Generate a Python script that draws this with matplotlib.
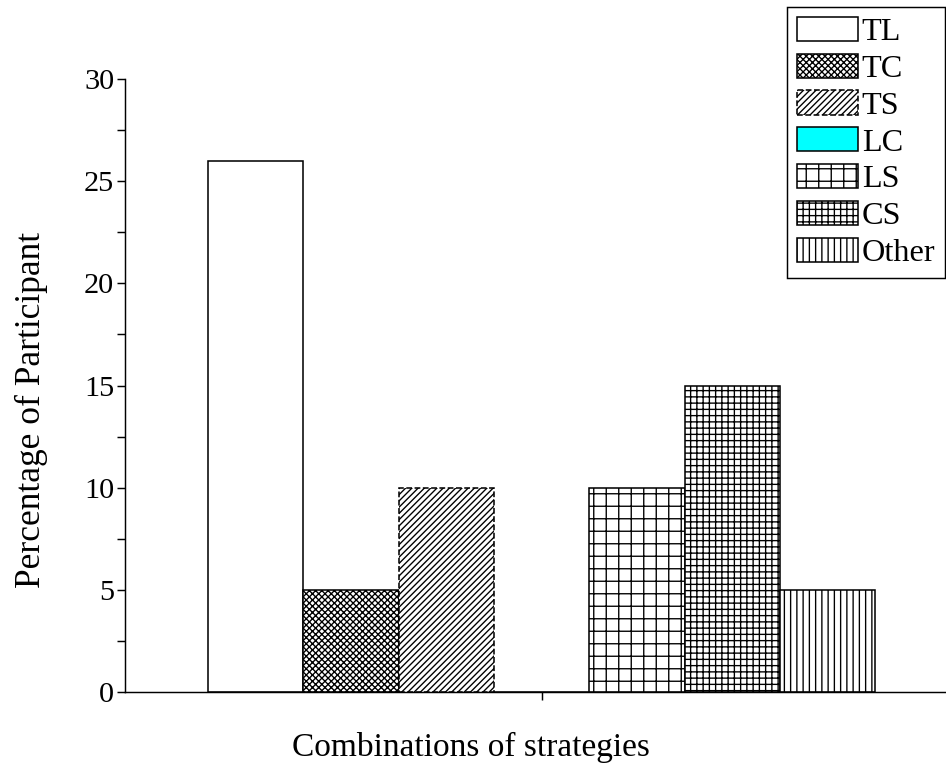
import numpy as np
import matplotlib.pyplot as plt
from matplotlib.ticker import MultipleLocator

# data
labels = ["TL", "TC", "TS", "LC", "LS", "CS", "Other"]
values = [26, 5, 10, 0, 10, 15, 5]
colors = ["white", "white", "white", "cyan", "white", "white", "white"]
hatches = [None, "xxxx", "////", None, "+", "++", "||"]
styles = ["-", "-", "--", "-", "-", "-", "-"]

plt.rcParams["font.family"] = ["Liberation Serif", "DejaVu Serif"]
plt.rcParams["hatch.linewidth"] = 1.3

dpi = 75
fig = plt.figure(figsize=(946 / dpi, 771 / dpi), dpi=dpi)
ax = fig.add_axes([125 / 946, 1 - 692 / 771, 1 - 125 / 946, (692 - 79) / 771])

x = np.arange(len(values)) - 3
for i in range(len(values)):
    ax.bar(x[i], values[i], width=1.0, color=colors[i], edgecolor="black",
           hatch=hatches[i], linewidth=1.5, linestyle=styles[i], label=labels[i])

ax.set_xlim(-4.37, 4.24)
ax.set_ylim(0, 30)
ax.set_xticks([0])
ax.set_xticklabels([""])
ax.yaxis.set_major_locator(MultipleLocator(5))
ax.yaxis.set_minor_locator(MultipleLocator(2.5))
ax.tick_params(axis="both", which="both", direction="out", length=7.5, width=1.4,
               labelsize=29, pad=3)
for s in ["top", "right"]:
    ax.spines[s].set_visible(False)
for s in ["left", "bottom"]:
    ax.spines[s].set_linewidth(1.4)

ax.set_xlabel("Combinations of strategies", fontsize=32)
ax.xaxis.set_label_coords(0.421, -0.065)
ax.set_ylabel("Percentage of Participant", fontsize=34)
ax.yaxis.set_label_coords(-0.094, 0.46)

leg = ax.legend(loc="upper right", bbox_to_anchor=(945 / 946, 1 - 7 / 771),
                bbox_transform=fig.transFigure, fontsize=31, fancybox=False,
                edgecolor="black", framealpha=1, handlelength=1.9,
                handleheight=0.78, handletextpad=0.1, labelspacing=0.2,
                borderpad=0.3, borderaxespad=0)
leg.get_frame().set_linewidth(1.4)

fig.savefig("out.png", dpi=dpi)
